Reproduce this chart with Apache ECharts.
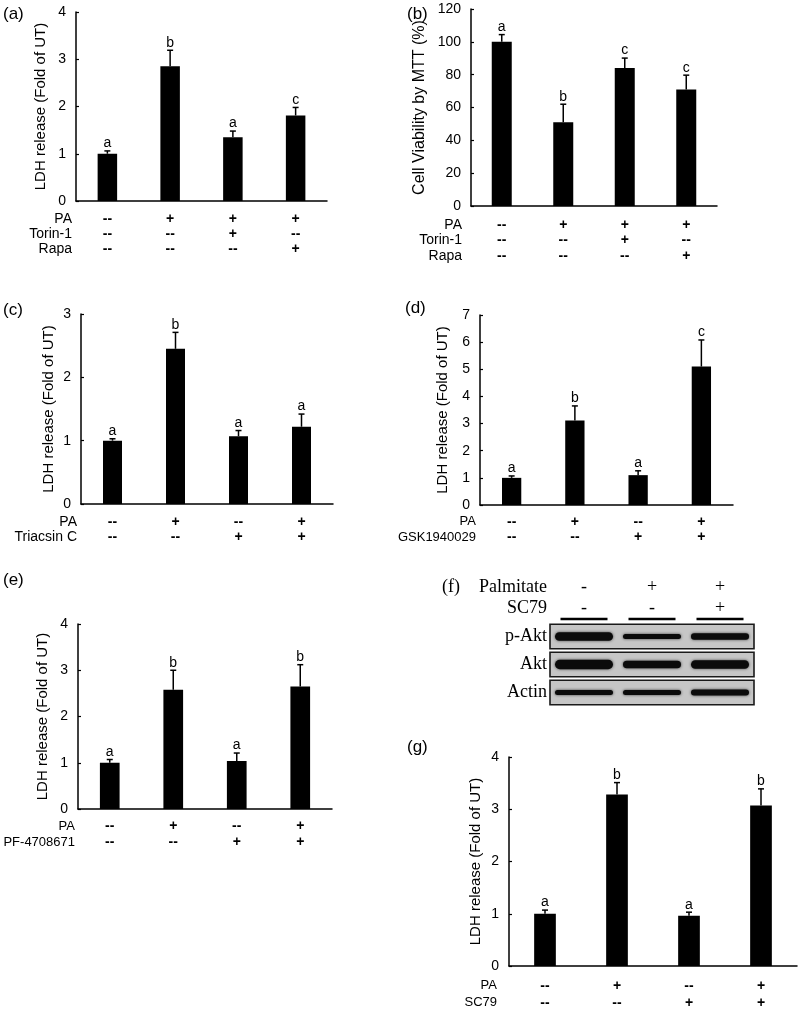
<!DOCTYPE html>
<html><head><meta charset="utf-8">
<script src="https://cdn.jsdelivr.net/npm/echarts@6/dist/echarts.min.js"></script>
<style>html,body{margin:0;padding:0;background:#fff}#c{width:800px;height:1012px}</style>
</head><body><div id="c"></div>
<script>
// ---------------- DATA ----------------
const groups = ['G1', 'G2', 'G3', 'G4'];

// (a) LDH release, Torin-1 / Rapa
const aMean = [1.00, 2.85, 1.35, 1.81];
const aSD = [0.06, 0.34, 0.13, 0.17];
const aLetters = ['a', 'b', 'a', 'c'];
const aRowNames = ['PA', 'Torin-1', 'Rapa'];
const aPA = ['--', '+', '+', '+'];
const aTorin = ['--', '--', '+', '--'];
const aRapa = ['--', '--', '--', '+'];
const aYMax = 4, aYStep = 1;

// (b) Cell viability by MTT
const bMean = [100, 51, 84, 71];
const bSD = [4.4, 11, 6.1, 8.7];
const bLetters = ['a', 'b', 'c', 'c'];
const bRowNames = ['PA', 'Torin-1', 'Rapa'];
const bPA = ['--', '+', '+', '+'];
const bTorin = ['--', '--', '+', '--'];
const bRapa = ['--', '--', '--', '+'];
const bYMax = 120, bYStep = 20;

// (c) LDH release, Triacsin C
const cMean = [1.00, 2.45, 1.07, 1.22];
const cSD = [0.03, 0.26, 0.09, 0.20];
const cLetters = ['a', 'b', 'a', 'a'];
const cRowNames = ['PA', 'Triacsin C'];
const cPA = ['--', '+', '--', '+'];
const cTriacsin = ['--', '--', '+', '+'];
const cYMax = 3, cYStep = 1;

// (d) LDH release, GSK1940029
const dMean = [1.00, 3.11, 1.10, 5.10];
const dSD = [0.07, 0.54, 0.16, 0.98];
const dLetters = ['a', 'b', 'a', 'c'];
const dRowNames = ['PA', 'GSK1940029'];
const dPA = ['--', '+', '--', '+'];
const dGSK = ['--', '--', '+', '+'];
const dYMax = 7, dYStep = 1;

// (e) LDH release, PF-4708671
const eMean = [1.00, 2.58, 1.04, 2.65];
const eSD = [0.07, 0.42, 0.17, 0.47];
const eLetters = ['a', 'b', 'a', 'b'];
const eRowNames = ['PA', 'PF-4708671'];
const ePA = ['--', '+', '--', '+'];
const ePF = ['--', '--', '+', '+'];
const eYMax = 4, eYStep = 1;

// (g) LDH release, SC79
const gMean = [1.00, 3.28, 0.96, 3.07];
const gSD = [0.07, 0.23, 0.07, 0.32];
const gLetters = ['a', 'b', 'a', 'b'];
const gRowNames = ['PA', 'SC79'];
const gPA = ['--', '+', '--', '+'];
const gSC79 = ['--', '--', '+', '+'];
const gYMax = 4, gYStep = 1;

// (f) Western blot
const lanes = ['L1', 'L2', 'L3'];
const blotRows = ['p-Akt', 'Akt', 'Actin'];
const blotHeaderNames = ['Palmitate', 'SC79'];
const palmitate = ['-', '+', '+'];
const sc79 = ['-', '-', '+'];
const bandPAkt = [8.5, 5, 6.5];     // relative band thickness
const bandAkt = [9.5, 7.5, 8.5];
const bandActin = [5, 5, 6];

const yName = 'LDH release (Fold of UT)';
const bYName = 'Cell Viability by MTT (%)';

// ---------------- LAYOUT ----------------
const SANS = '"Liberation Sans", Arial, sans-serif';
const SERIF = '"Liberation Serif", "Times New Roman", serif';
const FS = 14;

const panels = [
  {id:'a', mean:aMean, sd:aSD, letters:aLetters, rows:[aPA,aTorin,aRapa], rowNames:aRowNames, ymax:aYMax, step:aYStep, name:yName,
   left:76, top:12, width:251, height:189, barW:19.5, nameGap:28, nameSize:15, lblMargin:10.5, lh:15, rowRight:72, rowFS:14, tag:[3,14]},
  {id:'b', mean:bMean, sd:bSD, letters:bLetters, rows:[bPA,bTorin,bRapa], rowNames:bRowNames, ymax:bYMax, step:bYStep, name:bYName,
   left:471, top:9, width:246, height:197, barW:20, nameGap:43, nameSize:16, lblMargin:11, lh:15.5, rowRight:462, rowFS:14, tag:[407,14]},
  {id:'c', mean:cMean, sd:cSD, letters:cLetters, rows:[cPA,cTriacsin], rowNames:cRowNames, ymax:cYMax, step:cYStep, name:yName,
   left:81, top:314, width:252, height:190, barW:19, nameGap:25, nameSize:15, lblMargin:10, lh:15.3, rowRight:77, rowFS:14, tag:[3,310]},
  {id:'d', mean:dMean, sd:dSD, letters:dLetters, rows:[dPA,dGSK], rowNames:dRowNames, ymax:dYMax, step:dYStep, name:yName,
   left:480, top:315, width:253, height:190, barW:19.3, nameGap:30, nameSize:15, lblMargin:9, lh:15.3, rowRight:476, rowFS:13, tag:[405,308]},
  {id:'e', mean:eMean, sd:eSD, letters:eLetters, rows:[ePA,ePF], rowNames:eRowNames, ymax:eYMax, step:eYStep, name:yName,
   left:78, top:624, width:254, height:185, barW:19.7, nameGap:28, nameSize:15, lblMargin:9.3, lh:16, rowRight:75, rowFS:13, tag:[3,580]},
  {id:'g', mean:gMean, sd:gSD, letters:gLetters, rows:[gPA,gSC79], rowNames:gRowNames, ymax:gYMax, step:gYStep, name:yName,
   left:509, top:757, width:288, height:209, barW:21.7, nameGap:26, nameSize:15, lblMargin:11.3, lh:17, rowRight:497, rowFS:13, tag:[407,747]}
];

const blot = {left:550, top:622.5, width:204, height:84, boxH:24.5, bandW:58};

const grid = [], xAxis = [], yAxis = [], series = [], graphic = [];

panels.forEach((p, gi) => {
  grid.push({left:p.left, top:p.top, width:p.width, height:p.height, containLabel:false});
  xAxis.push({
    type:'category', gridIndex:gi, data:groups, boundaryGap:true,
    axisLine:{show:true, lineStyle:{color:'#000', width:1.5}},
    axisTick:{show:false}, splitLine:{show:false},
    axisLabel:{interval:0, margin:p.lblMargin, lineHeight:p.lh, color:'#000', fontFamily:SANS, fontSize:FS, fontWeight:'bold',
      formatter:(v, i) => p.rows.map(r => r[i]).join('\n')}
  });
  yAxis.push({
    type:'value', gridIndex:gi, min:0, max:p.ymax, interval:p.step,
    name:p.name, nameLocation:'middle', nameGap:p.nameGap, nameRotate:90,
    nameTextStyle:{color:'#000', fontFamily:SANS, fontSize:p.nameSize},
    axisLine:{show:true, lineStyle:{color:'#000', width:1.5}},
    axisTick:{show:true, inside:true, length:3, lineStyle:{color:'#000', width:1.2}},
    splitLine:{show:false},
    axisLabel:{color:'#000', fontFamily:SANS, fontSize:FS, margin:10}
  });
  series.push({
    type:'bar', xAxisIndex:gi, yAxisIndex:gi, data:p.mean, barWidth:p.barW,
    itemStyle:{color:'#000'}, silent:true, animation:false
  });
  series.push({
    type:'custom', xAxisIndex:gi, yAxisIndex:gi, z:5, clip:false, animation:false,
    data:p.mean.map((m, i) => [i, m, p.sd[i]]),
    encode:{x:0, y:1},
    renderItem:(params, api) => {
      const i = api.value(0), m = api.value(1), s = api.value(2);
      const p0 = api.coord([i, m]), p1 = api.coord([i, m + s]);
      return {type:'group', children:[
        {type:'line', shape:{x1:p0[0], y1:p0[1], x2:p1[0], y2:p1[1]}, style:{stroke:'#000', lineWidth:1.5}},
        {type:'line', shape:{x1:p1[0]-3, y1:p1[1], x2:p1[0]+3, y2:p1[1]}, style:{stroke:'#000', lineWidth:1.5}},
        {type:'text', x:p1[0], y:p1[1]-0.5, style:{text:p.letters[params.dataIndex], fill:'#000',
          font:FS + 'px ' + SANS, align:'center', verticalAlign:'bottom'}}
      ]};
    }
  });
  // row headers
  const base = p.top + p.height + p.lblMargin;
  p.rowNames.forEach((nm, k) => {
    graphic.push({type:'text', x:p.rowRight, y:base + p.lh*(k+0.5),
      style:{text:nm, fill:'#000', font:p.rowFS + 'px ' + SANS, align:'right', verticalAlign:'middle'}});
  });
  graphic.push({type:'text', x:p.tag[0], y:p.tag[1],
    style:{text:'(' + p.id + ')', fill:'#000', font:'17px ' + SANS, align:'left', verticalAlign:'middle'}});
});

// ---- (f) blot ----
const fi = panels.length;
grid.push({left:blot.left, top:blot.top, width:blot.width, height:blot.height});
xAxis.push({
  type:'category', gridIndex:fi, data:lanes, position:'top',
  axisLine:{show:false}, axisTick:{show:false}, splitLine:{show:false},
  axisLabel:{interval:0, margin:4, lineHeight:21, color:'#000', fontFamily:SERIF, fontSize:18,
    formatter:(v, i) => palmitate[i] + '\n' + sc79[i]}
});
yAxis.push({
  type:'category', gridIndex:fi, data:blotRows, inverse:true,
  axisLine:{show:false}, axisTick:{show:false}, splitLine:{show:false},
  axisLabel:{margin:3, color:'#000', fontFamily:SERIF, fontSize:18}
});
// boxes
series.push({
  type:'custom', xAxisIndex:fi, yAxisIndex:fi, z:1, clip:false, animation:false,
  data:blotRows.map((r, k) => [0, k]), encode:{x:0, y:1},
  renderItem:(params, api) => {
    const c = api.coord([0, api.value(1)]);
    const cs = params.coordSys;
    return {type:'rect', shape:{x:cs.x, y:c[1]-blot.boxH/2, width:cs.width, height:blot.boxH},
      style:{fill:'#c6c6c6', stroke:'#1a1a1a', lineWidth:1.6}};
  }
});
// underlines under header signs
series.push({
  type:'custom', xAxisIndex:fi, yAxisIndex:fi, z:2, clip:false, animation:false,
  data:lanes.map((l, i) => [i, 0]), encode:{x:0, y:1},
  renderItem:(params, api) => {
    const c = api.coord([api.value(0), 0]);
    const y = params.coordSys.y - 3.5;
    return {type:'line', shape:{x1:c[0]-23.5, y1:y, x2:c[0]+23.5, y2:y}, style:{stroke:'#000', lineWidth:2.5}};
  }
});
// bands
const bandData = [];
[bandPAkt, bandAkt, bandActin].forEach((arr, r) => arr.forEach((t, l) => bandData.push([l, r, t])));
series.push({
  type:'custom', xAxisIndex:fi, yAxisIndex:fi, z:3, clip:false, animation:false,
  data:bandData, encode:{x:0, y:1},
  renderItem:(params, api) => {
    const c = api.coord([api.value(0), api.value(1)]);
    const t = api.value(2);
    return {type:'rect', shape:{x:c[0]-blot.bandW/2, y:c[1]-t/2, width:blot.bandW, height:t, r:t/2},
      style:{fill:'#0b0b0b', shadowBlur:3, shadowColor:'rgba(0,0,0,0.7)'}};
  }
});
blotHeaderNames.forEach((nm, k) => {
  graphic.push({type:'text', x:547, y:blot.top - 4 - 21*(1.5 - k),
    style:{text:nm, fill:'#000', font:'18px ' + SERIF, align:'right', verticalAlign:'middle'}});
});
graphic.push({type:'text', x:442, y:587,
  style:{text:'(f)', fill:'#000', font:'18px ' + SERIF, align:'left', verticalAlign:'middle'}});

const chart = echarts.init(document.getElementById('c'), null, {renderer:'canvas'});
chart.setOption({backgroundColor:'#fff', animation:false, grid, xAxis, yAxis, series, graphic});
</script></body></html>
